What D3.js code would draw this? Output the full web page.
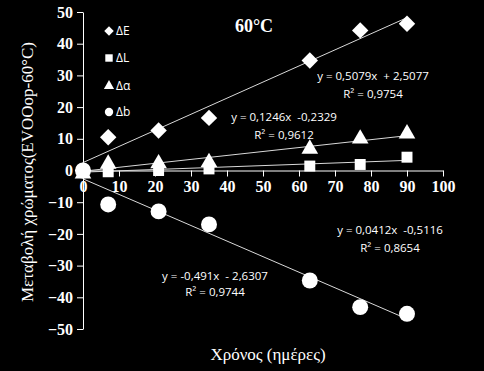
<!DOCTYPE html>
<html>
<head>
<meta charset="utf-8">
<script src="https://cdn.jsdelivr.net/npm/d3@7"></script>
<style>
  body { margin: 0; background: #000; }
  svg { display: block; }
</style>
</head>
<body>
<div id="chart"></div>
<script>
// days of storage
var days = [0, 7, 21, 35, 63, 77, 90];

// colour change series
var dE = [0, 10.5, 12.6, 16.6, 34.7, 44.2, 46.3];
var dL = [0, -0.4, 0, 0.5, 1.4, 1.9, 4.2];
var dA = [-1, 2.1, 2.2, 2.6, 6.8, 10, 11.6];
var dB = [0, -10.7, -12.9, -17, -34.7, -43.1, -45.2];

// linear trend coefficients [slope, intercept, R2]
var fitE = [0.5079, 2.5077, 0.9754];
var fitL = [0.0412, -0.5116, 0.8654];
var fitA = [0.1246, -0.2329, 0.9612];
var fitB = [-0.491, -2.6307, 0.9744];

var xTicks = [0, 10, 20, 30, 40, 50, 60, 70, 80, 90, 100];
var yTicks = [-50, -40, -30, -20, -10, 0, 10, 20, 30, 40, 50];

var width = 484, height = 371;

var svg = d3.select("#chart").append("svg")
    .attr("width", width)
    .attr("height", height)
    .style("background", "#000");

var x = d3.scaleLinear().domain([0, 100]).range([83, 443]);
var y = d3.scaleLinear().domain([-50, 50]).range([329, 12]);

var serif = "'Liberation Serif', 'DejaVu Serif', serif";
var sans = "'Open Sans', 'Liberation Sans', sans-serif";

// axes
var xAxis = d3.axisBottom(x).tickValues(xTicks).tickSizeInner(6).tickSizeOuter(0).tickPadding(4);
var yAxis = d3.axisLeft(y).tickValues(yTicks).tickSizeInner(6).tickSizeOuter(0).tickPadding(4);

var gx = svg.append("g")
    .attr("transform", "translate(0," + y(0) + ")")
    .call(xAxis);
var gy = svg.append("g")
    .attr("transform", "translate(" + x(0) + ",0)")
    .call(yAxis);

[gx, gy].forEach(function(g) {
  g.selectAll("path, line").attr("stroke", "#fff").attr("stroke-width", 1);
  g.selectAll("text")
    .attr("fill", "#fff")
    .style("font-family", serif)
    .style("font-weight", "bold")
    .style("font-size", "16px");
});

// trend lines
var fits = [fitE, fitL, fitA, fitB];
svg.append("g").selectAll("line")
  .data(fits)
  .enter().append("line")
    .attr("x1", x(0))
    .attr("x2", x(90))
    .attr("y1", function(d) { return y(d[1]); })
    .attr("y2", function(d) { return y(d[0] * 90 + d[1]); })
    .attr("stroke", "#d9d9d9")
    .attr("stroke-width", 1);

function pts(vals) {
  return vals.map(function(v, i) { return [days[i], v]; });
}

// diamond = square turned 45deg
var series = [
  {name: "ΔE", data: dE, sym: d3.symbolSquare, rot: 45, size: 135, lsize: 45},
  {name: "ΔL", data: dL, sym: d3.symbolSquare, rot: 0, size: 120, lsize: 55},
  {name: "Δα", data: dA, sym: d3.symbolTriangle, rot: 0, size: 120, lsize: 45},
  {name: "Δb", data: dB, sym: d3.symbolCircle, rot: 0, size: 200, lsize: 55}
];

series.forEach(function(s) {
  svg.append("g").selectAll("path")
    .data(pts(s.data))
    .enter().append("path")
      .attr("transform", function(d) {
        return "translate(" + x(d[0]) + "," + y(d[1]) + ") rotate(" + s.rot + ")";
      })
      .attr("d", d3.symbol().type(s.sym).size(s.size))
      .attr("fill", "#fff");
});

// legend
var legY = [31, 58, 86, 112];
var leg = svg.append("g");
series.forEach(function(s, i) {
  leg.append("path")
    .attr("transform", "translate(109," + legY[i] + ") rotate(" + s.rot + ")")
    .attr("d", d3.symbol().type(s.sym).size(s.lsize))
    .attr("fill", "#fff");
  leg.append("text")
    .attr("x", 116)
    .attr("y", legY[i] + 4)
    .attr("fill", "#fff")
    .style("font-family", sans)
    .style("font-size", "12px")
    .text(s.name);
});

// title
svg.append("text")
  .attr("x", 254)
  .attr("y", 32)
  .attr("text-anchor", "middle")
  .attr("fill", "#fff")
  .style("font-family", serif)
  .style("font-weight", "bold")
  .style("font-size", "18px")
  .text("60°C");

// equation labels
function fmt(v) { return String(v).replace(".", ","); }
var eqPos = [
  {f: fitE, b: "+ ", cx: 373, y1: 80, y2: 98},
  {f: fitA, b: "-", cx: 284, y1: 121, y2: 139},
  {f: fitL, b: "-", cx: 390, y1: 234, y2: 252},
  {f: fitB, b: "- ", cx: 215, y1: 280, y2: 296}
];
eqPos.forEach(function(e) {
  svg.append("text")
    .attr("x", e.cx).attr("y", e.y1)
    .attr("text-anchor", "middle")
    .attr("fill", "#fff")
    .style("font-family", sans)
    .style("font-size", "11.5px")
    .style("white-space", "pre")
    .text("y = " + fmt(e.f[0]) + "x  " + e.b + fmt(Math.abs(e.f[1])));
  svg.append("text")
    .attr("x", e.cx).attr("y", e.y2)
    .attr("text-anchor", "middle")
    .attr("fill", "#fff")
    .style("font-family", sans)
    .style("font-size", "11.5px")
    .text("R² = " + fmt(e.f[2]));
});

// axis titles
svg.append("text")
  .attr("x", 268)
  .attr("y", 360)
  .attr("text-anchor", "middle")
  .attr("fill", "#fff")
  .style("font-family", serif)
  .style("font-size", "17px")
  .text("Χρόνος (ημέρες)");

svg.append("text")
  .attr("transform", "translate(33,172) rotate(-90)")
  .attr("text-anchor", "middle")
  .attr("fill", "#fff")
  .style("font-family", serif)
  .style("font-size", "17px")
  .text("Μεταβολή χρώματος(EVOOop-60°C)");
</script>
</body>
</html>
